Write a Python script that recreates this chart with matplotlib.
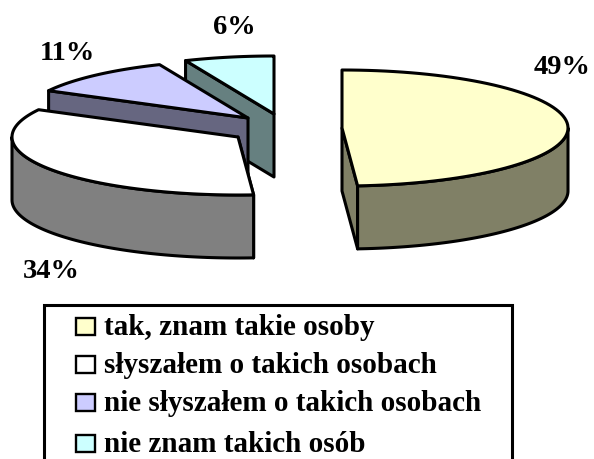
import matplotlib
matplotlib.use("Agg")
import matplotlib.pyplot as plt
import numpy as np
from matplotlib.patches import Polygon, Rectangle

# chart data
categories = ["tak, znam takie osoby", "słyszałem o takich osobach",
              "nie słyszałem o takich osobach", "nie znam takich osób"]
values = [48.9, 33.9, 10.8, 6.4]
pct_labels = ["49%", "34%", "11%", "6%"]
top_colors = ["#FFFFCC", "#FFFFFF", "#CCCCFF", "#CCFFFF"]
side_colors = ["#808066", "#808080", "#666680", "#668080"]

# layout, in pixels of the 594x459 picture
centers = [(342, 128), (238, 137), (248, 118), (274, 114)]
label_pos = [(562, 68), (51, 272), (67, 53), (234, 28)]
RX, RY, DEPTH = 226, 58, 63
LW = 2.2

plt.rcParams["font.family"] = ["Liberation Serif", "DejaVu Serif"]

fig = plt.figure(figsize=(5.94, 4.59), dpi=100)
ax = fig.add_axes([0, 0, 1, 1])
ax.set_xlim(0, 594)
ax.set_ylim(459, 0)
ax.axis("off")


def rim(center, t0, t1):
    """Points on the top ellipse, angles clockwise from 12 o'clock"""
    t = np.radians(np.linspace(t0, t1, 80))
    return np.column_stack([center[0] + RX * np.sin(t), center[1] - RY * np.cos(t)])


def add_poly(pts, color):
    ax.add_patch(Polygon(pts, closed=True, facecolor=color, edgecolor="black",
                         linewidth=LW, joinstyle="round"))


angles = np.concatenate([[0], np.cumsum(values) / np.sum(values) * 360])

# back slices first so the front ones cover them
for i in reversed(range(len(values))):
    t0, t1 = angles[i], angles[i + 1]
    c = centers[i]
    down = np.array([0, DEPTH])

    # the one cut face seen from the camera
    face_t = t1 if i == 0 else t0
    edge = np.vstack([rim(c, face_t, face_t), [c]])[[0, -1]]
    add_poly(np.vstack([edge, edge[::-1] + down]), side_colors[i])

    # outer wall, only the part on the front half of the ellipse
    a0, a1 = max(t0, 90), min(t1, 270)
    if a1 > a0:
        arc = rim(c, a0, a1)
        add_poly(np.vstack([arc, arc[::-1] + down]), side_colors[i])

    add_poly(np.vstack([[c], rim(c, t0, t1)]), top_colors[i])

for (x, y), label in zip(label_pos, pct_labels):
    ax.text(x, y, label, fontsize=20.5, fontweight="bold", ha="center", va="center")

# legend box runs off the bottom of the picture
ax.add_patch(Rectangle((44, 305), 468, 170, facecolor="white", edgecolor="black",
                       linewidth=LW, clip_on=True))
baselines = [335, 373, 411, 452]
for name, color, y in zip(categories, top_colors, baselines):
    ax.add_patch(Rectangle((76, y - 17), 19, 17, facecolor=color, edgecolor="black", linewidth=1.7))
    ax.text(104, y, name, fontsize=21, fontweight="bold", ha="left", va="baseline")

fig.savefig("out.png", dpi=100)
